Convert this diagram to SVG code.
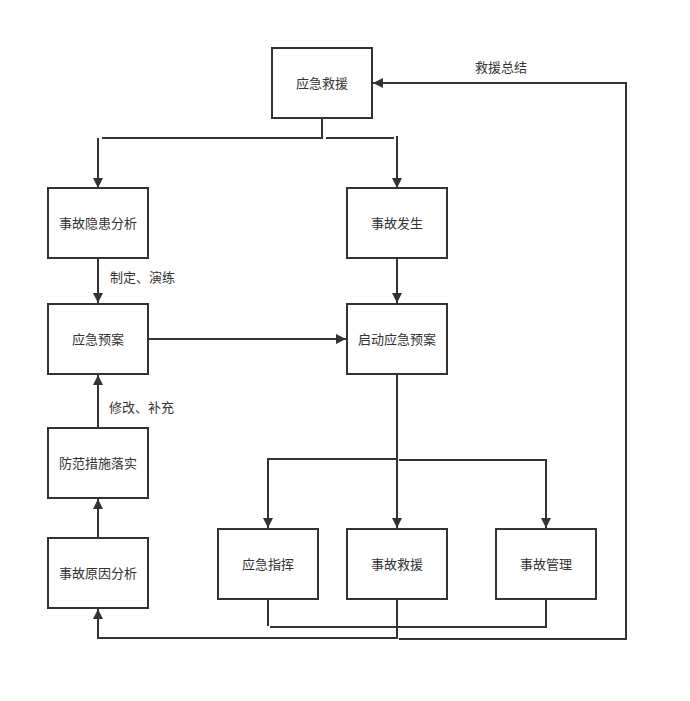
<svg xmlns="http://www.w3.org/2000/svg" width="690" height="701" viewBox="0 0 690 701">
<style>
.box{fill:#fff;stroke:#333;stroke-width:2}
.t{font-family:"Liberation Sans","Noto Sans CJK SC",sans-serif;font-size:13px;fill:#333;text-anchor:middle;dominant-baseline:central}
.l{font-family:"Liberation Sans","Noto Sans CJK SC",sans-serif;font-size:13px;fill:#333}
.c{fill:none;stroke:#333;stroke-width:2}
</style>
<defs>
<marker id="a" markerWidth="10" markerHeight="10" viewBox="0 0 10 10" refX="10" refY="5" orient="auto" markerUnits="userSpaceOnUse">
<path d="M0,0 L10,5 L0,10 Z" fill="#333"/>
</marker>
</defs>
<rect width="690" height="701" fill="#fff"/>
<g id="connectors">
<path class="c" d="M322,118 V138 H102"/>
<path class="c" d="M98,138 V188" marker-end="url(#a)"/>
<path class="c" d="M326,138 H394"/>
<path class="c" d="M397,136 V188" marker-end="url(#a)"/>
<path class="c" d="M98,258 V303" marker-end="url(#a)"/>
<path class="c" d="M148,339 H346" marker-end="url(#a)"/>
<path class="c" d="M397,258 V303" marker-end="url(#a)"/>
<path class="c" d="M397,374 V528" marker-end="url(#a)"/>
<path class="c" d="M397,459 H268 V528" marker-end="url(#a)"/>
<path class="c" d="M399,460 H546 V528" marker-end="url(#a)"/>
<path class="c" d="M98,428 V375" marker-end="url(#a)"/>
<path class="c" d="M98,538 V499" marker-end="url(#a)"/>
<path class="c" d="M268,599 V626"/>
<path class="c" d="M270,627 H546 V599"/>
<path class="c" d="M397,599 V638 H98 V609" marker-end="url(#a)"/>
<path class="c" d="M399,639 H626 V83 H373" marker-end="url(#a)"/>
</g>
<g id="n1"><rect class="box" x="272" y="48" width="100" height="70"/><text class="t" x="322" y="83">应急救援</text></g>
<g id="n2"><rect class="box" x="48" y="188" width="100" height="70"/><text class="t" x="98" y="223">事故隐患分析</text></g>
<g id="n3"><rect class="box" x="347" y="188" width="100" height="70"/><text class="t" x="397" y="223">事故发生</text></g>
<g id="n4"><rect class="box" x="48" y="304" width="100" height="70"/><text class="t" x="98" y="339">应急预案</text></g>
<g id="n5"><rect class="box" x="347" y="304" width="100" height="70"/><text class="t" x="397" y="339">启动应急预案</text></g>
<g id="n6"><rect class="box" x="48" y="428" width="100" height="70"/><text class="t" x="98" y="463">防范措施落实</text></g>
<g id="n7"><rect class="box" x="48" y="538" width="100" height="70"/><text class="t" x="98" y="573">事故原因分析</text></g>
<g id="n8"><rect class="box" x="218" y="529" width="100" height="70"/><text class="t" x="268" y="564">应急指挥</text></g>
<g id="n9"><rect class="box" x="347" y="529" width="100" height="70"/><text class="t" x="397" y="564">事故救援</text></g>
<g id="n10"><rect class="box" x="496" y="529" width="100" height="70"/><text class="t" x="546" y="564">事故管理</text></g>
<g id="labels">
<text class="l" x="110" y="282">制定、演练</text>
<text class="l" x="109" y="412">修改、补充</text>
<text class="l" x="475" y="72">救援总结</text>
</g>
</svg>
